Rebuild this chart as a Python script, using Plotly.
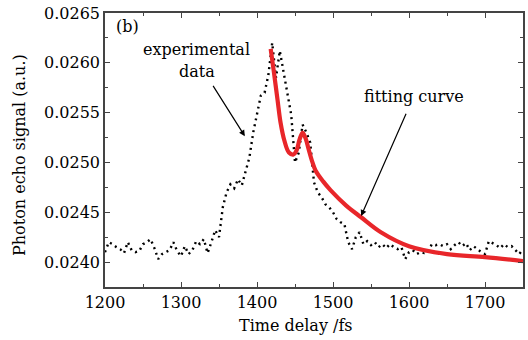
import plotly.graph_objects as go

# experimental data (fs, a.u.)
exp_t = list(range(1200, 1755, 5))
exp_v = [0.02410, 0.02420, 0.02418, 0.02415, 0.02413, 0.02409, 0.02420, 0.02412, 0.02410, 0.02411,
         0.02418, 0.02420, 0.02423, 0.02414, 0.02403, 0.02408, 0.02410, 0.02412, 0.02420, 0.02411,
         0.02406, 0.02416, 0.02408, 0.02412, 0.02421, 0.02418, 0.02423, 0.02409, 0.02420, 0.02432,
         0.02425, 0.02455, 0.02470, 0.02478, 0.02474, 0.02483, 0.02477, 0.02490, 0.02505, 0.02530,
         0.02548, 0.02567, 0.02570, 0.02588, 0.02620, 0.02585, 0.02612, 0.02590, 0.02570, 0.02548,
         0.02500, 0.02510, 0.02538, 0.02530, 0.02520, 0.02480, 0.02470, 0.02465, 0.02458, 0.02455,
         0.02450, 0.02443, 0.02440, 0.02438, 0.02420, 0.02413, 0.02425, 0.02430, 0.02418, 0.02421,
         0.02417, 0.02420, 0.02415, 0.02418, 0.02414, 0.02418, 0.02415, 0.02413, 0.02415, 0.02403,
         0.02410, 0.02412, 0.02408, 0.02410, 0.02409, 0.02410, 0.02418, 0.02417, 0.02418, 0.02416,
         0.02418, 0.02413, 0.02417, 0.02420, 0.02416, 0.02419, 0.02412, 0.02416, 0.02413, 0.02410,
         0.02408, 0.02421, 0.02419, 0.02417, 0.02414, 0.02418, 0.02415, 0.02416, 0.02412, 0.02408,
         0.02413]

# fitting curve
fit_t = [1418, 1422, 1427, 1431, 1436, 1442, 1448, 1452, 1456, 1460, 1464, 1468, 1473, 1477,
         1487, 1497, 1517, 1537, 1563, 1600, 1650, 1700, 1750]
fit_v = [0.02614, 0.02592, 0.02563, 0.02540, 0.02522, 0.02510, 0.02508, 0.02512, 0.02523, 0.02530,
         0.02524, 0.02513, 0.02500, 0.02492, 0.02481, 0.02472, 0.02457, 0.02445, 0.02430, 0.02416,
         0.02408, 0.02405, 0.02401]

x_ticks = [1200, 1300, 1400, 1500, 1600, 1700]
y_ticks = [0.0240, 0.0245, 0.0250, 0.0255, 0.0260, 0.0265]

FONT = "DejaVu Serif"

fig = go.Figure()
fig.add_trace(go.Scatter(x=exp_t, y=exp_v, mode="lines",
                         line=dict(color="black", width=2.4, dash="2px,4px"),
                         showlegend=False))
fig.add_trace(go.Scatter(x=fit_t, y=fit_v, mode="lines", line_shape="spline",
                         line=dict(color="#e8262a", width=4.2),
                         showlegend=False))

axis_common = dict(showgrid=False, zeroline=False, showline=True, linecolor="#444",
                   linewidth=1.5, mirror="ticks", ticks="inside", ticklen=5,
                   tickcolor="#444", tickwidth=1.2, automargin=False,
                   tickfont=dict(family=FONT, size=16, color="black"))

fig.update_xaxes(range=[1200, 1750], tickvals=x_ticks,
                 minor=dict(dtick=50, ticks="inside", ticklen=3, tickcolor="#444"),
                 **axis_common)
fig.update_yaxes(range=[0.02375, 0.0265], tickvals=y_ticks, tickformat=".4f",
                 minor=dict(dtick=0.00025, ticks="inside", ticklen=3, tickcolor="#444"),
                 **axis_common)

ann_font = dict(family=FONT, size=16, color="black")
# axis titles
fig.add_annotation(xref="paper", yref="paper", x=0.457, y=-0.139, text="Time delay /fs",
                   xanchor="center", yanchor="middle", showarrow=False, font=ann_font)
fig.add_annotation(xref="paper", yref="paper", x=-0.2045, y=0.48,
                   text="Photon echo signal (a.u.)", textangle=-90,
                   xanchor="center", yanchor="middle", showarrow=False, font=ann_font)
# in-plot labels
fig.add_annotation(x=1229, y=0.02636, text="(b)", showarrow=False, font=ann_font)
fig.add_annotation(x=1321, y=0.026133, text="experimental", showarrow=False, font=ann_font)
fig.add_annotation(x=1321, y=0.025913, text="data", showarrow=False, font=ann_font)
fig.add_annotation(x=1384, y=0.025263, ax=1341, ay=0.025783, axref="x", ayref="y",
                   text="", showarrow=True, arrowhead=2, arrowsize=1, arrowwidth=1.2,
                   arrowcolor="black")
fig.add_annotation(x=1607, y=0.025663, text="fitting curve", showarrow=False, font=ann_font)
fig.add_annotation(x=1537, y=0.024463, ax=1597, ay=0.025503, axref="x", ayref="y",
                   text="", showarrow=True, arrowhead=2, arrowsize=1, arrowwidth=1.2,
                   arrowcolor="black")

fig.update_layout(width=528, height=340, margin=dict(l=105, r=5, t=13, b=53),
                  plot_bgcolor="white", paper_bgcolor="white")

fig.write_html("out.html", config={"displayModeBar": False},
               post_script="document.body.style.margin='0';document.body.style.overflow='hidden';")
